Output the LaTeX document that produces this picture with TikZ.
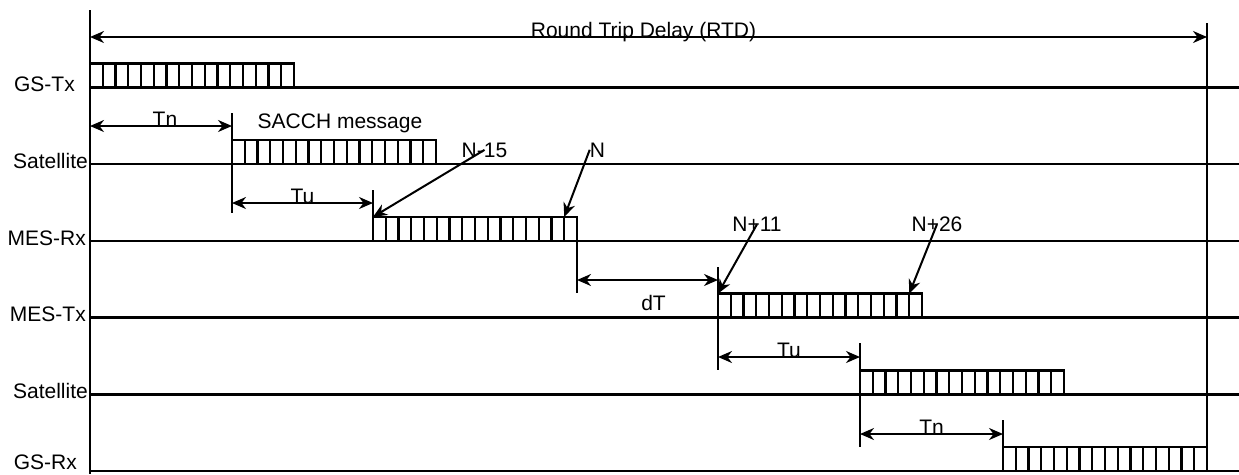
\documentclass[tikz,border=0pt]{standalone}
\usepackage{fontspec}
\setmainfont{Liberation Sans}
\usepackage{tikz}
\usetikzlibrary{arrows.meta, positioning, calc}
\tikzstyle{burst}   = [rectangle, draw=black, line width=2.4pt, minimum width=204pt,
                       minimum height=24pt, inner sep=0pt, outer sep=0pt, anchor=south west]
\tikzstyle{track}   = [line width=2.4pt]
\tikzstyle{tick}    = [line width=2pt]
\tikzstyle{lane}    = [anchor=base east, inner sep=0pt]
\tikzstyle{tag}     = [anchor=base, inner sep=0pt]
\tikzstyle{span}    = [line width=2pt, {Stealth[length=14pt,width=12pt]}-{Stealth[length=14pt,width=12pt]}]
\tikzstyle{pointer} = [line width=2pt, -{Stealth[length=14pt,width=12pt]}]

\begin{document}
\begin{tikzpicture}[x=1pt, y=-1pt, every node/.style={font=\fontsize{21}{25}\selectfont}]
  \useasboundingbox (0,0) rectangle (1239,474);

  % lanes
  \node (lgstx)  [lane] at (75,91.5)  {GS-Tx};
  \node (lsat)   [lane] at (88,168.2) {Satellite};
  \node (lmesrx) [lane] at (86,245)   {MES-Rx};
  \node (lmestx) [lane] at (86,321.6) {MES-Tx};
  \node (lsatb)  [lane] at (88,398.3) {Satellite};
  \node (lgsrx)  [lane] at (77,469.5) {GS-Rx};
  \foreach \y in {87.5,164.2,240.9,317.6,394.3,471}
    \draw[track] (90,\y) -- (1239,\y);
  \draw[track] (90,10) -- (90,474);
  \draw[track] (1207,23) -- (1207,447);

  % bursts of 16 frames
  \node (gstx)  [burst] at (90,87.5)   {};
  \node (sat)   [burst] at (232,164.2) {};
  \node (mesrx) [burst] at (373,240.9) {};
  \node (mestx) [burst] at (718,317.6) {};
  \node (satb)  [burst] at (860,394.3) {};
  \node (gsrx)  [burst] at (1003,471)  {};
  \foreach \b in {gstx,sat,mesrx,mestx,satb,gsrx}
    \foreach \i in {1,...,15}
      \draw[track] ($(\b.south west)!\i/16!(\b.south east)$) -- ($(\b.north west)!\i/16!(\b.north east)$);

  \node (msg) [tag, above=12pt of sat.north, anchor=base, xshift=6pt] {SACCH message};

  % ticks
  \draw[tick] (232,113) -- (232,213);
  \draw[tick] (373,190) -- (373,240.9);
  \draw[tick] (577,240.9) -- (577,293);
  \draw[tick] (718,267) -- (718,370);
  \draw[tick] (860,343) -- (860,447);
  \draw[tick] (1003,420) -- (1003,447);

  % delays
  \coordinate (rtda) at (90,37);    \coordinate (rtdb) at (1207,37);
  \coordinate (tna)  at (90,126);   \coordinate (tnb)  at (232,126);
  \coordinate (tua)  at (232,203);  \coordinate (tub)  at (373,203);
  \coordinate (dta)  at (577,280);  \coordinate (dtb)  at (718,280);
  \coordinate (tuc)  at (718,357);  \coordinate (tud)  at (860,357);
  \coordinate (tnc)  at (860,434);  \coordinate (tnd)  at (1003,434);
  \draw[span] (rtda) -- node[tag, xshift=-5pt] {Round Trip Delay (RTD)} (rtdb);
  \draw[span] (tna) -- node[tag, xshift=4pt] {Tn} (tnb);
  \draw[span] (tua) -- node[tag] {Tu} (tub);
  \draw[span] (dta) -- node[tag, xshift=6pt, yshift=-30pt] {dT} (dtb);
  \draw[span] (tuc) -- node[tag] {Tu} (tud);
  \draw[span] (tnc) -- node[tag] {Tn} (tnd);

  % frame numbers
  \node (nm15) [tag] at (484.5,157) {N-15};
  \node (nn)   [tag] at (597.5,157) {N};
  \node (np11) [tag] at (757,231.5) {N+11};
  \node (np26) [tag] at (937,231.5) {N+26};
  \draw[pointer] (nm15.center) -- (mesrx.north west);
  \draw[pointer] (nn.west) -- ($(mesrx.north west)!15/16!(mesrx.north east)$);
  \draw[pointer] (np11.center) -- (mestx.north west);
  \draw[pointer] (np26.center) -- ($(mestx.north west)!15/16!(mestx.north east)$);
\end{tikzpicture}
\end{document}
